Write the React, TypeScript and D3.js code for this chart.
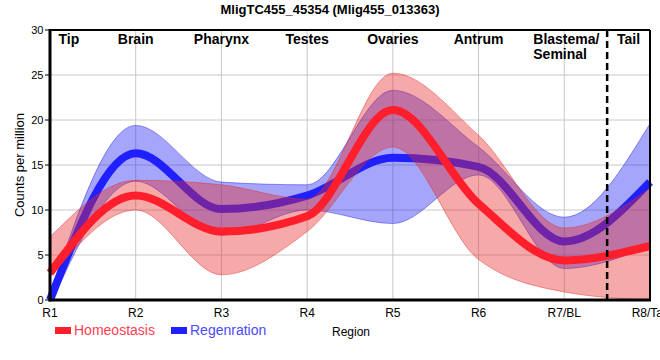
import React from 'react';
import * as d3 from 'd3';

const regions = ['R1', 'R2', 'R3', 'R4', 'R5', 'R6', 'R7/BL', 'R8/Tail'];
const yTicks = [0, 5, 10, 15, 20, 25, 30];

const homeoMean = [3.0, 11.6, 7.6, 9.3, 21.1, 10.7, 4.4, 6.0];
const homeoUpper = [7.0, 13.3, 12.8, 11.2, 25.2, 18.3, 8.0, 12.4];
const homeoLower = [2.5, 10.0, 2.8, 7.6, 17.0, 4.5, 0.9, 0.0];

const regenMean = [0.0, 16.3, 10.1, 11.6, 15.8, 14.8, 6.5, 13.1];
const regenUpper = [0.6, 19.4, 13.1, 12.8, 23.3, 17.0, 9.2, 19.6];
const regenLower = [-0.6, 13.2, 7.2, 10.0, 8.5, 13.9, 3.5, 6.0];

// tissue names and where they sit along the region axis (index units)
const tissues = ['Tip', 'Brain', 'Pharynx', 'Testes', 'Ovaries', 'Antrum', 'Blastema/\nSeminal', 'Tail'];
const tissuePos = [0.22, 1, 2, 3, 4, 5, 6, 6.75];
const tailBoundary = 6.5;

const W = 660;
const H = 360;
const left = 50;
const right = 650;
const top = 30;
const bottom = 300;
const font = 'Liberation Sans, Arial, sans-serif';

const App = () => {
  const x = d3.scaleLinear().domain([0, regions.length - 1]).range([left, right]);
  const y = d3.scaleLinear().domain([0, 30]).range([bottom, top]);

  const line = d3
    .line<number>()
    .x((d, i) => x(i))
    .y(d => y(d))
    .curve(d3.curveMonotoneX);

  const band = (lo: number[], hi: number[]) =>
    d3
      .area<number>()
      .x((d, i) => x(i))
      .y0((d, i) => y(lo[i]))
      .y1(d => y(d))
      .curve(d3.curveMonotoneX)(hi) || '';

  const series = [
    { name: 'Regenration', mean: regenMean, lo: regenLower, hi: regenUpper, line: '#2020ff', fill: 'rgb(30,30,240)', text: '#4a4aff' },
    { name: 'Homeostasis', mean: homeoMean, lo: homeoLower, hi: homeoUpper, line: '#ff1f2c', fill: 'rgb(230,40,40)', text: '#ff4050' },
  ];

  return (
    <svg width={W} height={H} style={{ position: 'absolute', left: 0, top: 0 }} fontFamily={font}>
      <defs>
        <clipPath id="plot">
          <rect x={left - 3} y={top} width={right - left + 3} height={bottom - top} />
        </clipPath>
      </defs>

      <text x={330} y={14} textAnchor="middle" fontSize={13} fontWeight="bold">
        MligTC455_45354 (Mlig455_013363)
      </text>

      {/* grid */}
      {yTicks.slice(1, -1).map(t => (
        <line key={'gy' + t} x1={left} x2={right} y1={y(t)} y2={y(t)} stroke="#c8c8c8" strokeWidth={1} />
      ))}
      {regions.slice(1, -1).map((r, i) => (
        <line key={'gx' + r} x1={x(i + 1)} x2={x(i + 1)} y1={top} y2={bottom} stroke="#c8c8c8" strokeWidth={1} />
      ))}

      {/* bands and means: regeneration first, homeostasis on top */}
      {series.map(s => (
        <g key={s.name}>
          <path
            d={band(s.lo, s.hi)}
            clipPath="url(#plot)"
            fill={s.fill}
            fillOpacity={0.4}
            stroke={s.fill}
            strokeOpacity={0.45}
            strokeWidth={1}
          />
          <path d={line(s.mean) || ''} fill="none" stroke={s.line} strokeWidth={8} />
        </g>
      ))}

      {/* tail boundary */}
      <line
        x1={x(tailBoundary)}
        x2={x(tailBoundary)}
        y1={top}
        y2={bottom}
        stroke="#000"
        strokeWidth={2.5}
        strokeDasharray="7,4"
      />

      {/* frame */}
      <line x1={left} x2={right} y1={top} y2={top} stroke="#000" strokeWidth={2} />
      <line x1={right} x2={right} y1={top} y2={bottom} stroke="#000" strokeWidth={2} />
      <line x1={left} x2={left} y1={top - 1} y2={bottom + 1.5} stroke="#000" strokeWidth={3} />
      <line x1={left - 1.5} x2={right + 1} y1={bottom} y2={bottom} stroke="#000" strokeWidth={3} />

      {/* y axis */}
      {yTicks.map(t => (
        <g key={'yt' + t}>
          <line x1={45} x2={left} y1={y(t)} y2={y(t)} stroke="#000" strokeWidth={1} />
          <text x={43.5} y={y(t)} dy="0.35em" textAnchor="end" fontSize={11}>
            {t}
          </text>
        </g>
      ))}
      <text transform={`translate(23.5,${(top + bottom) / 2}) rotate(-90)`} textAnchor="middle" fontSize={13}>
        Counts per million
      </text>

      {/* x axis */}
      {regions.map((r, i) => (
        <text key={'xt' + r} x={x(i)} y={317} textAnchor="middle" fontSize={12}>
          {r}
        </text>
      ))}
      <text x={332} y={336} fontSize={12}>
        Region
      </text>

      {/* tissue labels */}
      {tissues.map((t, i) => {
        const parts = t.split('\n');
        if (parts.length > 1) {
          return (
            <text key={t} x={x(tissuePos[i]) - 31} y={44} fontSize={14} fontWeight="bold">
              {parts.map((p, j) => (
                <tspan key={p} x={x(tissuePos[i]) - 31} dy={j === 0 ? 0 : 15}>
                  {p}
                </tspan>
              ))}
            </text>
          );
        }
        return (
          <text key={t} x={x(tissuePos[i])} y={44} textAnchor="middle" fontSize={14} fontWeight="bold">
            {t}
          </text>
        );
      })}

      {/* legend */}
      {[series[1], series[0]].map((s, i) => (
        <g key={'lg' + s.name} transform={`translate(${i === 0 ? 55 : 171},0)`}>
          <rect x={0} y={327} width={16} height={7} fill={s.line} />
          <text x={19} y={335} fontSize={14} fill={s.text}>
            {s.name}
          </text>
        </g>
      ))}
    </svg>
  );
};

export default App;
